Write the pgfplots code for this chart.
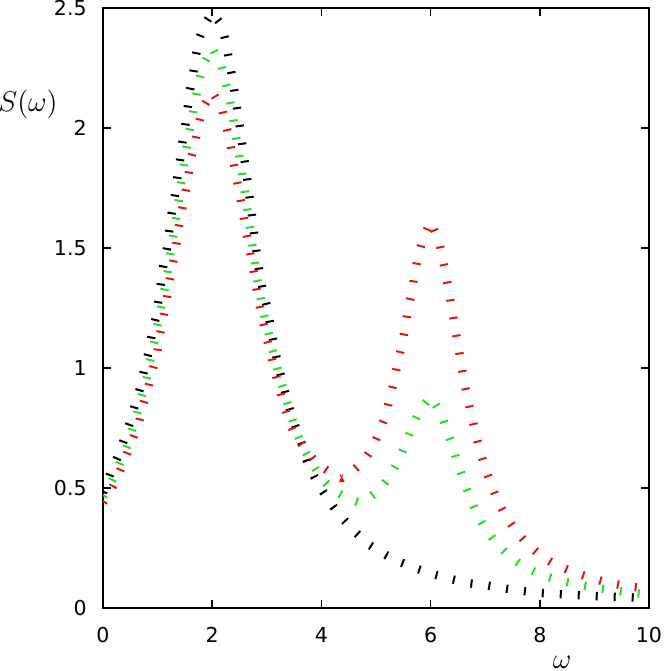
\documentclass[border=0pt]{standalone}
\usepackage{fontspec}
\setsansfont{DejaVu Sans}
\usepackage{pgfplots}
\pgfplotsset{compat=1.18}

\definecolor{gpred}{RGB}{228,20,20}
\definecolor{gpgreen}{RGB}{40,222,40}

\begin{document}
\begin{tikzpicture}
\begin{axis}[
    at={(0,0)}, anchor=south west,
    scale only axis,
    width=273bp, height=300bp,
    xmin=0, xmax=10,
    ymin=0, ymax=2.5,
    xtick={0,2,...,10},
    ytick={0,0.5,...,2.5},
    tick align=inside,
    major tick length=4bp,
    axis line style={line width=0.8bp},
    every tick/.style={black, line width=0.8bp},
    /pgf/number format/assume math mode=true,
    tick label style={font=\sffamily\fontsize{10.3}{12}\selectfont, inner sep=0pt},
    yticklabel style={xshift=-8bp},
    xticklabel style={yshift=-9.5bp},
    xlabel={$\omega$},
    ylabel={$S(\omega)$},
    label style={font=\fontsize{14}{16}\selectfont},
    xlabel style={at={(axis cs:8.41,0)}, anchor=center, yshift=-27bp},
    ylabel style={at={(axis cs:0,2.1)}, anchor=center, rotate=-90, xshift=-37.5bp},
    every axis plot/.append style={line width=4.2bp, dash pattern=on 1bp off 8bp, line join=bevel, line cap=butt},
]
% black
\addplot[black] coordinates {
 (0,0.48) (0.147,0.567) (0.280,0.636) (0.390,0.705) (0.495,0.774) (0.586,0.846)
 (0.678,0.915) (0.751,0.989) (0.830,1.061) (0.890,1.135) (0.965,1.207) (1.013,1.278)
 (1.062,1.353) (1.104,1.426) (1.172,1.5) (1.214,1.574) (1.258,1.647) (1.319,1.720)
 (1.361,1.792) (1.410,1.865) (1.453,1.939) (1.508,2.011) (1.551,2.085) (1.593,2.158)
 (1.654,2.231) (1.703,2.304) (1.765,2.376) (1.856,2.43) (2.0,2.48)
 (2.174,2.429) (2.253,2.355) (2.308,2.283) (2.368,2.211) (2.418,2.138) (2.467,2.064)
 (2.515,1.992) (2.557,1.920) (2.606,1.846) (2.650,1.772) (2.692,1.699) (2.734,1.625)
 (2.771,1.551) (2.815,1.478) (2.86,1.404) (2.92,1.332) (2.998,1.26) (3.059,1.186)
 (3.119,1.114) (3.181,1.040) (3.260,0.967) (3.339,0.895) (3.425,0.825) (3.529,0.754)
 (3.639,0.686) (3.729,0.617) (3.869,0.547) (4.029,0.485) (4.218,0.422) (4.414,0.367)
 (4.647,0.311) (4.890,0.261) (5.196,0.219) (5.458,0.190) (5.757,0.1625) (6.057,0.140)
 (6.386,0.120) (6.703,0.103) (7.03,0.094) (7.33,0.082) (7.68,0.071) (8.00,0.063)
 (8.33,0.058) (8.65,0.054) (8.97,0.050) (9.30,0.047) (9.62,0.045) (10,0.040)
};
% green
\addplot[gpgreen] coordinates {
 (0,0.465) (0.177,0.536) (0.311,0.605) (0.434,0.672) (0.537,0.745) (0.629,0.814)
 (0.709,0.883) (0.800,0.957) (0.861,1.029) (0.934,1.103) (0.995,1.175) (1.058,1.248)
 (1.123,1.321) (1.178,1.392) (1.227,1.465) (1.276,1.539) (1.331,1.613) (1.379,1.685)
 (1.423,1.758) (1.471,1.830) (1.520,1.904) (1.575,1.978) (1.636,2.05) (1.698,2.122)
 (1.758,2.196) (1.850,2.267) (2.0,2.335) (2.172,2.255) (2.253,2.183) (2.326,2.114)
 (2.386,2.038) (2.436,1.964) (2.491,1.892) (2.540,1.818) (2.588,1.745) (2.637,1.672)
 (2.679,1.599) (2.728,1.526) (2.771,1.454) (2.815,1.380) (2.875,1.307) (2.936,1.235)
 (3.016,1.161) (3.089,1.092) (3.168,1.020) (3.254,0.950) (3.346,0.878) (3.443,0.804)
 (3.53,0.739) (3.67,0.665) (3.82,0.605) (4.004,0.540) (4.22,0.489) (4.524,0.453)
 (4.68,0.44) (4.829,0.453) (5.073,0.495) (5.267,0.554) (5.426,0.619) (5.549,0.689)
 (5.670,0.758) (5.806,0.825) (6.0,0.88) (6.20,0.808) (6.30,0.739) (6.41,0.668)
 (6.50,0.599) (6.61,0.529) (6.72,0.461) (6.84,0.394) (7.01,0.328) (7.22,0.265)
 (7.45,0.214) (7.71,0.172) (8.00,0.140) (8.33,0.117) (8.64,0.100) (8.97,0.086)
 (9.30,0.075) (9.62,0.065) (10,0.056)
};
% red
\addplot[gpred] coordinates {
 (0,0.44) (0.177,0.505) (0.311,0.572) (0.434,0.640) (0.555,0.710) (0.665,0.780)
 (0.738,0.850) (0.830,0.920) (0.909,0.992) (0.995,1.065) (1.044,1.139) (1.105,1.211)
 (1.165,1.283) (1.214,1.355) (1.276,1.429) (1.337,1.503) (1.380,1.575) (1.441,1.649)
 (1.502,1.724) (1.563,1.794) (1.606,1.867) (1.685,1.939) (1.746,2.011) (1.824,2.082)
 (2.0,2.15) (2.174,2.086) (2.253,2.014) (2.326,1.943) (2.38,1.869) (2.44,1.797)
 (2.50,1.725) (2.56,1.651) (2.613,1.578) (2.674,1.505) (2.734,1.433) (2.790,1.360)
 (2.845,1.286) (2.906,1.217) (2.979,1.142) (3.059,1.071) (3.132,0.997) (3.223,0.925)
 (3.302,0.855) (3.394,0.790) (3.50,0.725) (3.718,0.658) (3.914,0.603) (4.2,0.558)
 (4.37,0.54) (4.524,0.561) (4.768,0.610) (4.940,0.668) (5.061,0.735) (5.178,0.804)
 (5.256,0.878) (5.335,0.950) (5.397,1.022) (5.471,1.093) (5.531,1.165) (5.580,1.239)
 (5.653,1.311) (5.701,1.383) (5.763,1.457) (5.848,1.530) (6.0,1.61) (6.154,1.530)
 (6.220,1.457) (6.282,1.383) (6.342,1.311) (6.397,1.238) (6.447,1.165) (6.507,1.092)
 (6.557,1.020) (6.612,0.947) (6.673,0.874) (6.75,0.802) (6.82,0.730) (6.90,0.658)
 (6.996,0.586) (7.100,0.520) (7.222,0.450) (7.375,0.383) (7.559,0.322) (7.771,0.267)
 (8.016,0.218) (8.296,0.179) (8.601,0.151) (8.907,0.128) (9.212,0.107) (9.542,0.093)
 (10,0.08)
};
\end{axis}
\pgfresetboundingbox
\path[use as bounding box] (-51.5bp,-31.5bp) rectangle (281.5bp,304bp);
\end{tikzpicture}
\end{document}
